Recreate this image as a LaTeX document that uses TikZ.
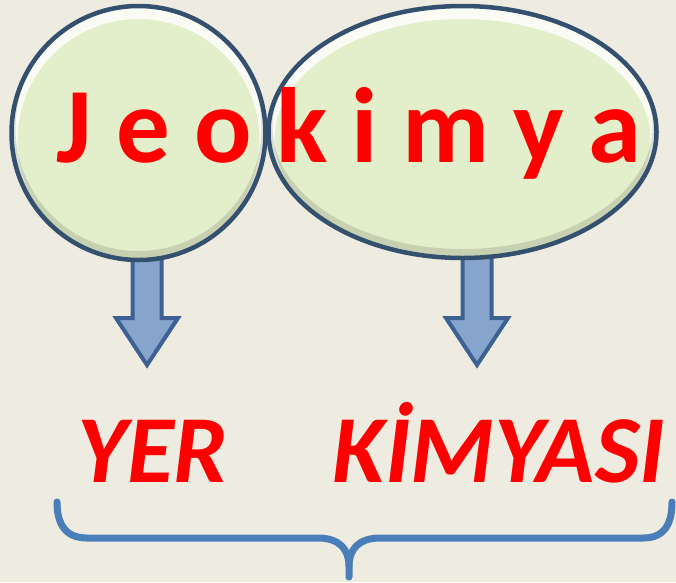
\documentclass[tikz,border=0pt]{standalone}
\usepackage{fontspec}
\setmainfont{Carlito}
\definecolor{paper}{HTML}{EEEBE1}
\definecolor{bubblefill}{HTML}{E3EECB}
\definecolor{bubbleline}{HTML}{34506F}
\definecolor{arrowfill}{HTML}{87A5CC}
\definecolor{arrowline}{HTML}{3C6192}
\definecolor{bracecol}{HTML}{4A7EBB}
\tikzset{
  word/.style={text=red, font=\bfseries\fontsize{107}{107}\selectfont, inner sep=0pt, anchor=base},
  part/.style={text=red, font=\bfseries\itshape\fontsize{96}{96}\selectfont, inner sep=0pt, anchor=base},
  downarrow/.style={fill=arrowfill, draw=arrowline, line width=4pt, line join=miter},
  bracestroke/.style={draw=bracecol, line width=7pt, line cap=round}
}
% bubble: centre x, centre y, x radius, y radius
\newcommand{\bubble}[4]{%
  \fill[bubblefill] (#1,#2) ellipse [x radius=#3, y radius=#4];
  \begin{scope}
    \clip (#1,#2) ellipse [x radius=#3, y radius=#4];
    \draw[white, line width=12pt, opacity=.8] (#1,#2+7) ellipse [x radius=#3, y radius=#4];
    \draw[black, line width=8pt, opacity=.12] (#1,#2-5) ellipse [x radius=#3, y radius=#4];
  \end{scope}
  \draw[bubbleline, line width=4.5pt] (#1,#2) ellipse [x radius=#3, y radius=#4];
}
\begin{document}
\begin{tikzpicture}[x=1pt, y=-1pt]
  \fill[paper] (0,0) rectangle (676,582);
  % arrows under the bubbles
  \foreach \x in {147,477}{
    \draw[downarrow] (\x-14.5,250) -- (\x-14.5,318) -- (\x-31,318) -- (\x,365)
      -- (\x+31,318) -- (\x+14.5,318) -- (\x+14.5,250) -- cycle;
  }
  \bubble{138.5}{133}{127}{127}
  \bubble{462.5}{132}{194}{126}
  \node[word] (jeo) at (349,162) {J e o k i m y a};
  \node[part] (yer) at (152.5,482) {YER};
  \node[part] (kim) at (499,482) {KİMYASI};
  % brace
  \coordinate (bl) at (57,502);
  \coordinate (bm) at (349,566);
  \coordinate (br) at (672,502);
  \draw[bracestroke] (bl) .. controls (57,526) and (67,538) .. (87,538) -- (318,538)
    .. controls (340,538) and (349,550) .. (bm) -- (349,577);
  \draw[bracestroke] (bm) .. controls (349,550) and (358,538) .. (380,538) -- (643,538)
    .. controls (663,538) and (672,526) .. (br);
\end{tikzpicture}
\end{document}
